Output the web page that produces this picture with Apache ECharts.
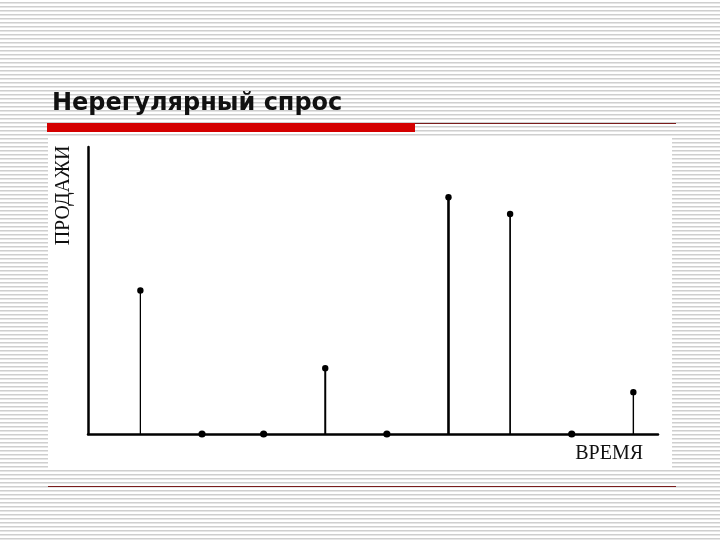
<!DOCTYPE html>
<html>
<head>
<meta charset="utf-8">
<script src="https://cdn.jsdelivr.net/npm/echarts@6/dist/echarts.min.js"></script>
<style>
  html, body { margin: 0; padding: 0; }
  body {
    width: 720px; height: 540px; overflow: hidden;
    background: repeating-linear-gradient(to bottom, #ffffff 0px, #ffffff 2px, #cfcfcf 2px, #cfcfcf 3px, #e6e6e6 3px, #e6e6e6 4px);
  }
  #chart { position: absolute; left: 0; top: 0; width: 720px; height: 540px; }
</style>
</head>
<body>
<div id="chart"></div>
<script>
// Data
const titleText = 'Нерегулярный спрос';
const yAxisName = 'ПРОДАЖИ';
const xAxisName = 'ВРЕМЯ';
const periods = [1, 2, 3, 4, 5, 6, 7, 8, 9];
const sales = [6.0, 0, 0, 2.75, 0, 9.9, 9.2, 0, 1.75];

// Styles (not data)
const stemWidths = [1.3, 1.3, 1.3, 2.0, 1.3, 2.6, 1.7, 1.3, 1.4];

const chart = echarts.init(document.getElementById('chart'), null, { renderer: 'canvas' });

const seriesData = periods.map((p, i) => [p, sales[i]]);

chart.setOption({
  backgroundColor: 'transparent',
  animation: false,
  title: {
    text: titleText,
    left: 52,
    top: 92,
    padding: 0,
    textStyle: { fontFamily: 'DejaVu Sans', fontWeight: 'bold', fontSize: 24, color: '#111111' }
  },
  graphic: [
    { type: 'rect', z: -10, shape: { x: 48, y: 138, width: 624, height: 332 }, style: { fill: '#ffffff' } },
    { type: 'rect', z: -5, shape: { x: 47, y: 123, width: 368, height: 9 }, style: { fill: '#d40000' } },
    { type: 'line', z: -5, shape: { x1: 415, y1: 123.5, x2: 676, y2: 123.5 }, style: { stroke: '#7a1c1c', lineWidth: 1.2 } },
    { type: 'line', z: -5, shape: { x1: 48, y1: 486.5, x2: 676, y2: 486.5 }, style: { stroke: '#7a1c1c', lineWidth: 1.2 } }
  ],
  grid: { left: 88, right: 62, top: 147, bottom: 106 },
  xAxis: {
    type: 'value',
    min: 0.15,
    max: 9.4,
    name: xAxisName,
    nameLocation: 'end',
    nameGap: -15,
    nameTextStyle: {
      fontFamily: 'Liberation Serif', fontSize: 20, color: '#111111',
      align: 'right', verticalAlign: 'top', padding: [10, 0, 0, 0]
    },
    axisLine: { onZero: false, lineStyle: { color: '#000000', width: 2.5 } },
    axisTick: { show: false },
    axisLabel: { show: false },
    splitLine: { show: false }
  },
  yAxis: {
    type: 'value',
    min: 0,
    max: 12,
    name: yAxisName,
    nameLocation: 'middle',
    nameRotate: 90,
    nameGap: 14,
    nameTextStyle: {
      fontFamily: 'Liberation Serif', fontSize: 20, color: '#111111',
      padding: [0, 0, 0, 190]
    },
    axisLine: { show: true, lineStyle: { color: '#000000', width: 2.5 } },
    axisTick: { show: false },
    axisLabel: { show: false },
    splitLine: { show: false }
  },
  series: [{
    type: 'custom',
    z: 10,
    data: seriesData,
    renderItem: function (params, api) {
      const x = api.value(0);
      const y = api.value(1);
      const base = api.coord([x, 0]);
      const top = api.coord([x, y]);
      const w = stemWidths[params.dataIndex];
      const children = [];
      if (y > 0) {
        children.push({
          type: 'line',
          shape: { x1: base[0], y1: base[1], x2: top[0], y2: top[1] },
          style: { stroke: '#000000', lineWidth: w }
        });
      }
      children.push({
        type: 'circle',
        shape: { cx: top[0], cy: top[1], r: y > 0 ? 3.2 : 3.6 },
        style: { fill: '#000000' }
      });
      return { type: 'group', children: children };
    }
  }]
});
</script>
</body>
</html>
